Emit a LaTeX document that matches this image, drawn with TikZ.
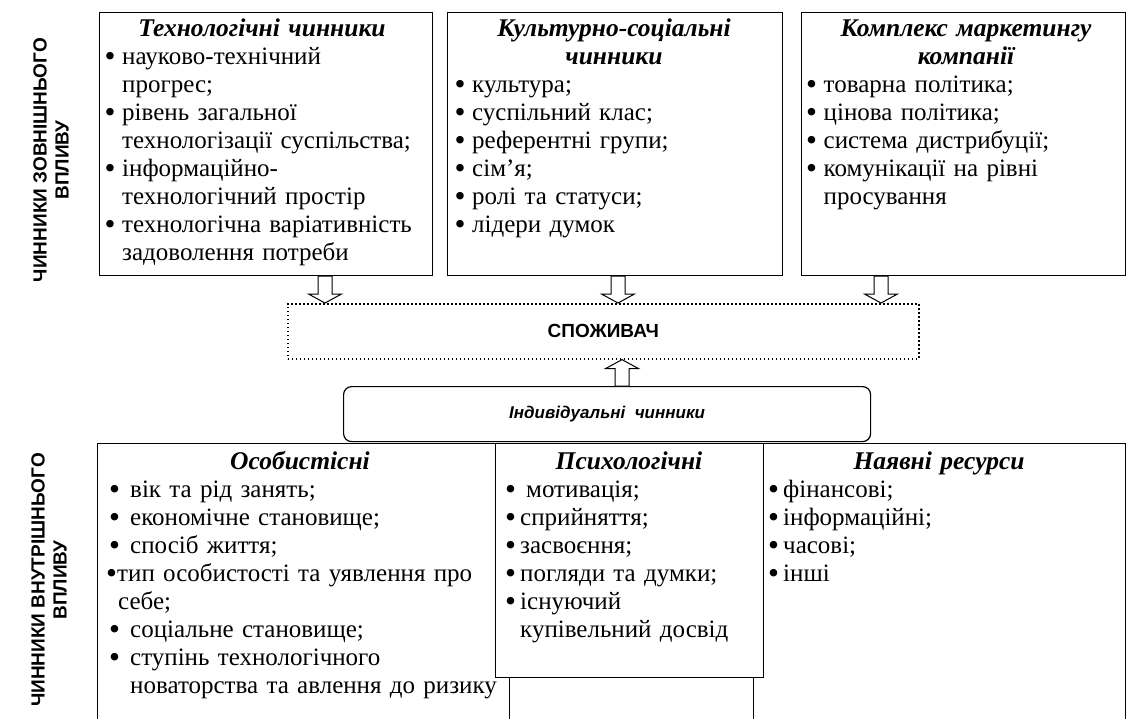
\documentclass[tikz,border=0pt]{standalone}
\usepackage{fontspec}
\setmainfont{Liberation Serif}
\setsansfont{Liberation Sans}
\usetikzlibrary{calc}
\newcommand\dotb{\raisebox{-2.5pt}{\scalebox{1.25}{•}}}
\newcommand\bu{\makebox[17.5pt][l]{\dotb}}
\newcommand\ind{\hspace*{17.5pt}}
\newcommand\blockarr[2]{%
  \draw[barrow] let \p1=(#1), \p2=(#2), \n1={ifthenelse(\y1>\y2,1,-1)} in
    ({\x1-7pt},{\y1}) -- ({\x1-7pt},{\y2+\n1*9pt}) -- ({\x1-16.5pt},{\y2+\n1*9pt})
    -- (\x1,\y2) -- ({\x1+16.5pt},{\y2+\n1*9pt}) -- ({\x1+7pt},{\y2+\n1*9pt})
    -- ({\x1+7pt},{\y1}) -- cycle;}
\begin{document}
\begin{tikzpicture}[x=1pt,y=-1pt,
  box/.style={draw, line width=1.2pt, anchor=north west, inner sep=0pt, fill=white},
  ttl/.style={font=\fontsize{25.5}{28}\selectfont\bfseries\itshape, align=center, text width=330pt, inner sep=0pt, anchor=base},
  lst/.style={font=\fontsize{25}{28}\selectfont, align=left, text width=420pt, inner sep=0pt, anchor=base west},
  side/.style={font=\fontsize{19}{22}\selectfont\sffamily\bfseries, align=center, rotate=90, inner sep=0pt},
  barrow/.style={draw, fill=white, line width=1pt, line join=miter}]
\useasboundingbox (0,0) rectangle (1126,718);
\fill[white] (0,0) rectangle (1126,718);

% side labels
\node[side] (lext) at (51,160) {ЧИННИКИ ЗОВНІШНЬОГО\\ВПЛИВУ};
\node[side] (lint) at (49,580) {ЧИННИКИ ВНУТРІШНЬОГО\\ВПЛИВУ};

% top boxes
\node[box, minimum width=333pt, minimum height=263pt] (b1) at (99,12) {};
\node[box, minimum width=335pt, minimum height=263pt] (b2) at (447,12) {};
\node[box, minimum width=323.5pt, minimum height=263pt] (b3) at (801,12) {};

\node[ttl] (t1) at (262,36) {Технологічні чинники};
\node[lst] (l1) at (104.5,64) {\bu науково-технічний\\ \ind прогрес;\\ \bu рівень загальної\\ \ind технологізації суспільства;\\ \bu інформаційно-\\ \ind технологічний простір\\ \bu технологічна варіативність\\ \ind задоволення потреби};

\node[ttl] (t2) at (614,36) {Культурно-соціальні\\чинники};
\node[lst] (l2) at (454.5,92) {\bu культура;\\ \bu суспільний клас;\\ \bu референтні групи;\\ \bu сім’я;\\ \bu ролі та статуси;\\ \bu лідери думок};

\node[ttl] (t3) at (966,36) {Комплекс маркетингу\\компанії};
\node[lst] (l3) at (806,92) {\bu товарна політика;\\ \bu цінова політика;\\ \bu система дистрибуції;\\ \bu комунікації на рівні\\ \ind просування};

% consumer
\node[draw, line width=1.6pt, dash pattern=on 1.6pt off 2.4pt, anchor=north west,
  minimum width=631pt, minimum height=55pt, inner sep=0pt] (cons) at (287,303) {};
\node[font=\fontsize{19}{21}\selectfont\sffamily\bfseries] (ctext) at (cons.center) {СПОЖИВАЧ};

% individual
\node[draw, line width=1.2pt, rounded corners=8pt, anchor=north west,
  minimum width=527pt, minimum height=55pt, inner sep=0pt] (ind) at (343,386) {};
\node[font=\fontsize{17}{20}\selectfont\sffamily\bfseries\itshape] (itext) at (ind.center) {Індивідуальні~ чинники};

% bottom boxes
\node[box, minimum width=412pt, minimum height=300pt] (p1) at (97,443) {};
\node[box, minimum width=372pt, minimum height=300pt] (p3) at (753,443) {};
\node[box, minimum width=268pt, minimum height=234pt] (p2) at (495,443) {};

\node[ttl] (s1) at (300,469) {Особистісні};
\node[lst] (q1) at (109,497) {\makebox[21pt][l]{\dotb}вік та рід занять;\\ \makebox[21pt][l]{\dotb}економічне становище;\\ \makebox[21pt][l]{\dotb}спосіб життя;\\ \hspace*{-3pt}\makebox[11pt][l]{\dotb}тип особистості та уявлення про\\ \hspace*{9pt}себе;\\ \makebox[21pt][l]{\dotb}соціальне становище;\\ \makebox[21pt][l]{\dotb}ступінь технологічного\\ \hspace*{21pt}новаторства та авлення до ризику};

\node[ttl] (s2) at (629,469) {Психологічні};
\node[lst] (q2) at (505,497) {\makebox[21pt][l]{\dotb}мотивація;\\ \makebox[15pt][l]{\dotb}сприйняття;\\ \makebox[15pt][l]{\dotb}засвоєння;\\ \makebox[15pt][l]{\dotb}погляди та думки;\\ \makebox[15pt][l]{\dotb}існуючий\\ \hspace*{15pt}купівельний досвід};

\node[ttl] (s3) at (939,469) {Наявні ресурси};
\node[lst] (q3) at (768,497) {\makebox[15pt][l]{\dotb}фінансові;\\ \makebox[15pt][l]{\dotb}інформаційні;\\ \makebox[15pt][l]{\dotb}часові;\\ \makebox[15pt][l]{\dotb}інші};

% arrows
\coordinate (ax1) at (325,0);
\coordinate (ax2) at (618,0);
\coordinate (ax3) at (881,0);
\coordinate (ax4) at (622,0);
\blockarr{b1.south -| ax1}{cons.north -| ax1}
\blockarr{b2.south -| ax2}{cons.north -| ax2}
\blockarr{b3.south -| ax3}{cons.north -| ax3}
\blockarr{ind.north -| ax4}{cons.south -| ax4}
\end{tikzpicture}
\end{document}
